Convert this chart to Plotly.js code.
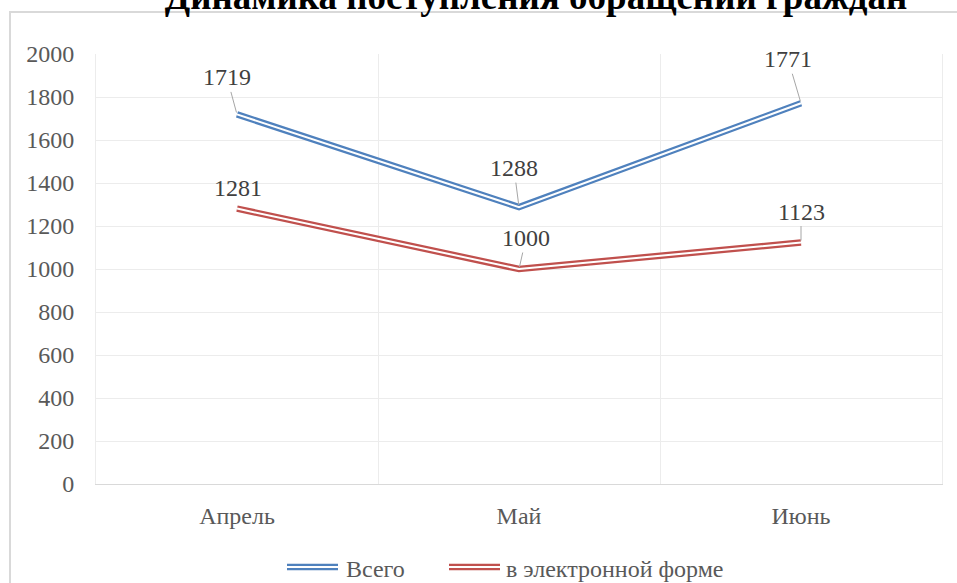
<!DOCTYPE html>
<html>
<head>
<meta charset="utf-8">
<script src="https://cdn.plot.ly/plotly-3.0.1.min.js"></script>
<style>
  html, body { margin: 0; padding: 0; background: #ffffff; }
  #chart { width: 957px; height: 583px; }
</style>
</head>
<body>
<div id="chart"></div>
<script>
// ---- data ----
var months = ['Апрель', 'Май', 'Июнь'];
var seriesNames = ['Всего', 'в электронной форме'];
var total = [1719, 1288, 1771];
var electronic = [1281, 1000, 1123];
var yTickVals = [0, 200, 400, 600, 800, 1000, 1200, 1400, 1600, 1800, 2000];
var titleText = 'Динамика поступления обращений граждан';

// ---- styles ----
var colors = ['#4f81bd', '#c0504d'];
var fontFamily = '"Liberation Serif", "Times New Roman", serif';
var textGrey = '#595959';
var labelGrey = '#404040';
var fs = 24;

// data label offsets (pixels, text centre relative to point)
var offTotal = [[-10, -37], [-5, -39], [-13, -44]];
var offElec = [[1, -21], [7, -31], [0, -31]];
var leaderTotal = [true, true, true];
var leaderElec = [false, true, true];

var series = [total, electronic];
var traces = [];
series.forEach(function (vals, i) {
  traces.push({
    x: months, y: vals, type: 'scatter', mode: 'lines',
    name: seriesNames[i], showlegend: false, hoverinfo: 'skip',
    line: { color: colors[i], width: 6.5 }
  });
  traces.push({
    x: months, y: vals, type: 'scatter', mode: 'lines',
    showlegend: false, hoverinfo: 'skip',
    line: { color: '#ffffff', width: 2 }
  });
});

var annotations = [];
function addLabels(vals, offs, leaders) {
  vals.forEach(function (v, k) {
    annotations.push({
      x: months[k], y: v, xref: 'x', yref: 'y',
      text: String(v), showarrow: true,
      ax: offs[k][0], ay: offs[k][1],
      arrowhead: 0, arrowwidth: 1, standoff: 2,
      arrowcolor: leaders[k] ? '#a6a6a6' : 'rgba(0,0,0,0)',
      font: { family: fontFamily, size: fs, color: labelGrey }
    });
  });
}
addLabels(total, offTotal, leaderTotal);
addLabels(electronic, offElec, leaderElec);

// plot area in pixels: x 96..942, y 54..484
function px(xp) { return (xp - 96) / 846; }
function py(yp) { return (484 - yp) / 430; }

var shapes = [];
// outer chart frame
shapes.push({
  type: 'rect', xref: 'paper', yref: 'paper', layer: 'below',
  x0: px(10), x1: px(990), y0: py(640), y1: py(12),
  line: { color: '#d9d9d9', width: 2 }, fillcolor: 'rgba(0,0,0,0)'
});

// manual legend with double lines
var legendItems = [
  { x0: 287, x1: 338, tx: 344 },
  { x0: 449, x1: 500, tx: 504 }
];
var legY = 567;
legendItems.forEach(function (it, i) {
  shapes.push({
    type: 'line', xref: 'paper', yref: 'paper',
    x0: px(it.x0), x1: px(it.x1), y0: py(legY), y1: py(legY),
    line: { color: colors[i], width: 6.5 }
  });
  shapes.push({
    type: 'line', xref: 'paper', yref: 'paper',
    x0: px(it.x0), x1: px(it.x1), y0: py(legY), y1: py(legY),
    line: { color: '#ffffff', width: 2 }
  });
  annotations.push({
    xref: 'paper', yref: 'paper', x: px(it.tx), y: py(legY + 2),
    xanchor: 'left', yanchor: 'middle', showarrow: false,
    text: seriesNames[i],
    font: { family: fontFamily, size: fs, color: textGrey }
  });
});

var layout = {
  width: 957, height: 583,
  margin: { l: 96, r: 15, t: 54, b: 99 },
  paper_bgcolor: '#ffffff', plot_bgcolor: '#ffffff',
  showlegend: false,
  title: {
    text: '<b>' + titleText + '</b>',
    xref: 'container', yref: 'container',
    x: 536 / 957, xanchor: 'center',
    y: 1 - 9 / 583, yanchor: 'bottom',
    font: { family: fontFamily, size: 37, color: '#000000' }
  },
  xaxis: {
    type: 'category', range: [-0.5, 2.5],
    tickson: 'boundaries', ticks: '',
    showgrid: true, gridcolor: '#ececec', gridwidth: 1,
    showline: true, linecolor: '#d9d9d9', linewidth: 1,
    tickfont: { family: fontFamily, size: fs, color: textGrey },
    ticklabelstandoff: 10,
    fixedrange: true
  },
  yaxis: {
    range: [0, 2000], tickvals: yTickVals,
    showgrid: true, gridcolor: '#ececec', gridwidth: 1,
    zeroline: false,
    showline: true, mirror: true, linecolor: '#ececec', linewidth: 1,
    ticks: '', ticklabelstandoff: 16,
    tickfont: { family: fontFamily, size: fs, color: textGrey },
    fixedrange: true
  },
  shapes: shapes,
  annotations: annotations
};

Plotly.newPlot('chart', traces, layout, { displayModeBar: false, staticPlot: true });
</script>
</body>
</html>
